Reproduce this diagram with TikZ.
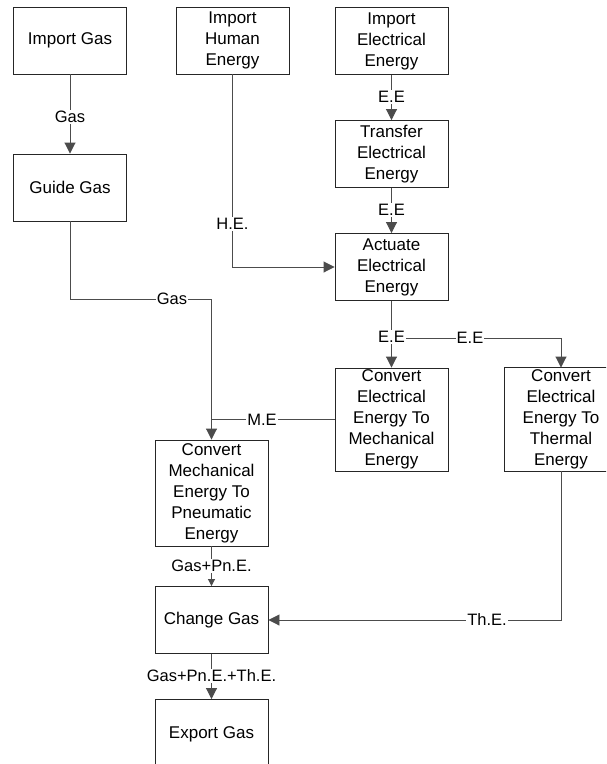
\documentclass[tikz,border=0pt]{standalone}
\usepackage{fontspec}
\setmainfont{Liberation Sans}
\usetikzlibrary{arrows.meta}
\tikzset{
  box/.style={draw=black!85, line width=0.9pt, minimum width=113pt, minimum height=67pt,
    inner sep=0pt, align=center, font=\fontsize{17}{21}\selectfont},
  tallbox/.style={box, minimum height=104pt},
  conn/.style={draw=black!70, line width=0.9pt},
  edge/.style={draw=black!85, line width=0.9pt},
  arr/.style={conn, -{Triangle[width=11pt,length=11pt]}},
  arrsmall/.style={conn, -{Triangle[width=7pt,length=7pt]}},
  lbl/.style={fill=white, inner sep=1pt, font=\fontsize{16.5}{19}\selectfont}
}
\begin{document}
\begin{tikzpicture}[x=1pt,y=-1pt]
\useasboundingbox (0,0) rectangle (606,764);
\clip (0,0) rectangle (606,764);
\fill[white] (0,0) rectangle (606,764);
% boxes
\node[box] (ig) at (70,40.5) {Import Gas};
\node[box] (ih) at (232.5,40.5) {Import\\Human\\Energy};
\node[box] (ie) at (391.5,41) {Import\\Electrical\\Energy};
\node[box] (gg) at (70,187.5) {Guide Gas};
\node[box] (te) at (391.5,154) {Transfer\\Electrical\\Energy};
\node[box] (ae) at (391.5,267) {Actuate\\Electrical\\Energy};
\node[tallbox, minimum height=103pt] (em) at (391.5,419.5) {Convert\\Electrical\\Energy To\\Mechanical\\Energy};
\node[tallbox, minimum height=103pt, draw=none] (et) at (561,419.5) {Convert\\Electrical\\Energy To\\Thermal\\Energy};
\draw[edge] (et.north east) -- (et.north west) -- (et.south west) -- (et.south east);
\node[tallbox, minimum height=106pt] (mp) at (211.5,493) {Convert\\Mechanical\\Energy To\\Pneumatic\\Energy};
\node[box] (cg) at (211.5,620) {Change Gas};
\node[box, minimum height=70pt] (eg) at (211.5,734.5) {Export Gas};
% coordinates
\coordinate (g1) at (70,299);
\coordinate (b1) at (391.5,338);
\coordinate (m1) at (211.5,419.5);
% connectors
\draw[arr] (ig) -- (gg);
\draw[arr] (ih.south) |- (ae.west);
\draw[arr] (ie) -- (te);
\draw[arr] (te) -- (ae);
\draw[arr] (gg.south) -- (g1) -| (mp.north);
\draw[arr] (ae) -- (em);
\draw[arr] (b1) -| (et.north);
\draw[conn] (em.west) -- (m1);
\draw[arrsmall] (mp) -- (cg);
\draw[arr] (et.south) |- (cg.east);
\draw[arr] (cg) -- (eg);
% labels
\node[lbl] (l1) at (70,117) {Gas};
\node[lbl] (l2) at (232.5,224) {H.E.};
\node[lbl] (l3) at (391.5,97) {E.E};
\node[lbl] (l4) at (391.5,210) {E.E};
\node[lbl] (l5) at (172,299) {Gas};
\node[lbl] (l6) at (391.5,337) {E.E};
\node[lbl] (l7) at (470,338) {E.E};
\node[lbl] (l8) at (262,420) {M.E};
\node[lbl] (l9) at (211.5,566) {Gas+Pn.E.};
\node[lbl] (l10) at (487,620) {Th.E.};
\node[lbl] (l11) at (211.5,676) {Gas+Pn.E.+Th.E.};
\end{tikzpicture}
\end{document}
